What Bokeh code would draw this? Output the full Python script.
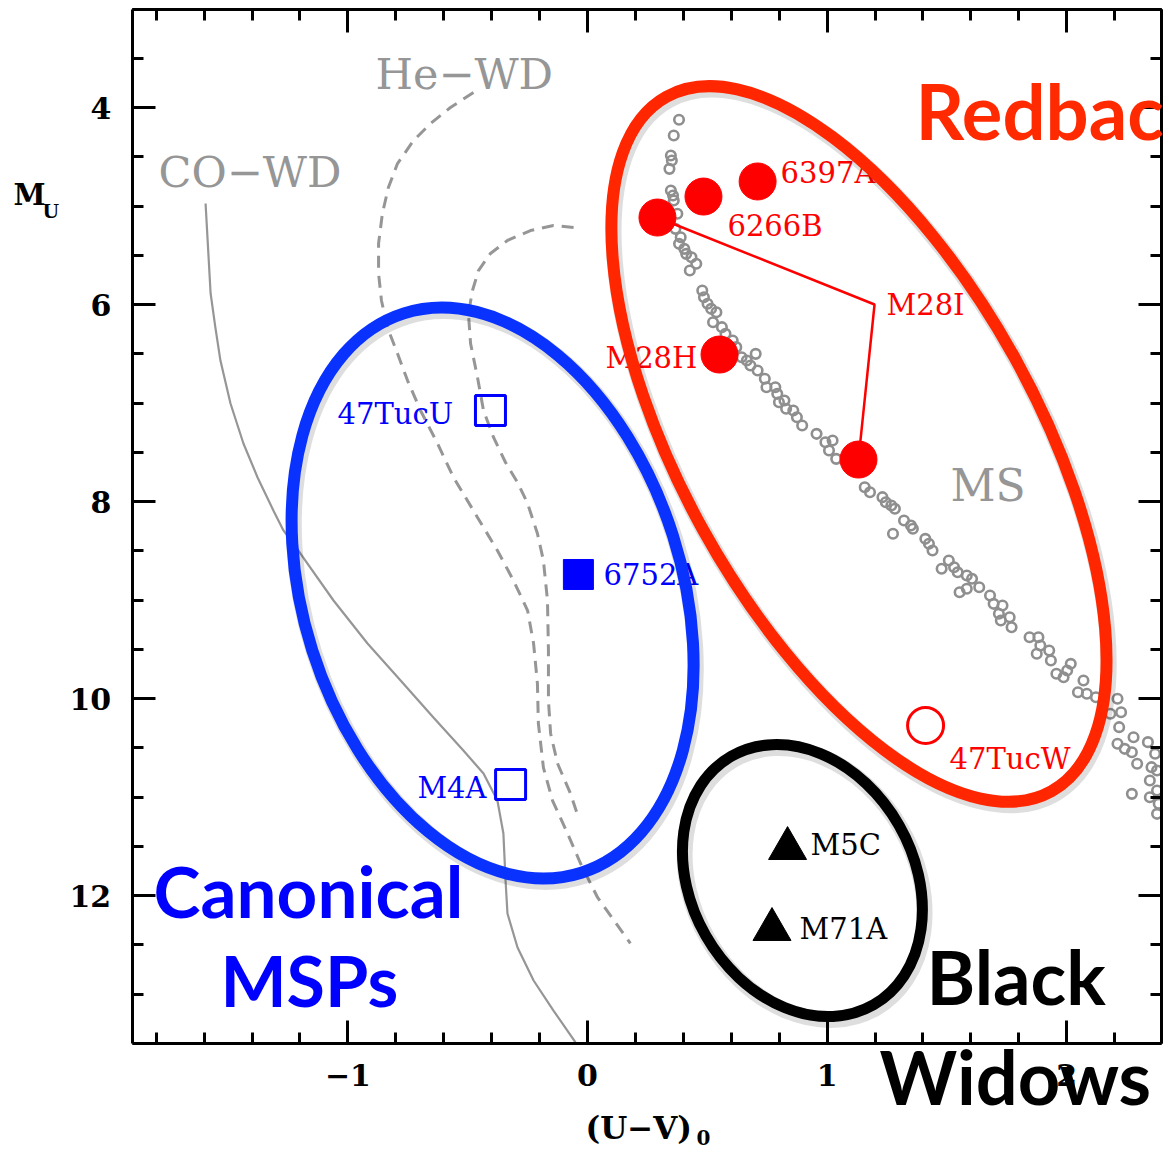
from bokeh.plotting import figure
from bokeh.models import Range1d, LinearAxis, FixedTicker, Label
from bokeh.embed import file_html
from bokeh.resources import INLINE
from bokeh.core.properties import value

# ---------------- data ----------------
# Main-sequence stars (U-V)0 , M_U
ms_uv = [0.382, 0.360, 0.348, 0.352, 0.342, 0.348, 0.357, 0.360, 0.375, 0.367,
         0.389, 0.382, 0.404, 0.412, 0.434, 0.454, 0.427, 0.479, 0.486, 0.501,
         0.516, 0.538, 0.524, 0.561, 0.576, 0.606, 0.621, 0.643, 0.665, 0.702,
         0.680, 0.710, 0.740, 0.747, 0.784, 0.792, 0.799, 0.822, 0.829, 0.859,
         0.874, 0.896, 0.956, 0.993, 1.023, 1.008, 1.038, 1.157, 1.179, 1.231,
         1.245, 1.268, 1.283, 1.275, 1.321, 1.350, 1.358, 1.410, 1.425, 1.440,
         1.478, 1.508, 1.530, 1.545, 1.553, 1.583, 1.583, 1.605, 1.635, 1.680,
         1.695, 1.732, 1.717, 1.762, 1.725, 1.770, 1.845, 1.882, 1.890, 1.927,
         1.875, 1.934, 2.017, 2.002, 1.957, 1.987, 2.070, 2.047, 2.084, 2.122,
         2.212, 2.227, 2.182, 2.219, 2.212, 2.242, 2.279, 2.272, 2.339, 2.294,
         2.369, 2.354, 2.377, 2.272, 2.347, 2.347, 2.377, 2.384, 2.377]
ms_mu = [4.125, 4.284, 4.487, 4.538, 4.623, 4.843, 4.893, 4.944, 5.079, 5.232,
         5.317, 5.384, 5.435, 5.486, 5.520, 5.587, 5.655, 5.858, 5.926, 5.993,
         6.044, 6.078, 6.180, 6.230, 6.298, 6.365, 6.433, 6.535, 6.569, 6.501,
         6.619, 6.670, 6.754, 6.840, 6.840, 6.907, 6.992, 6.975, 7.059, 7.076,
         7.144, 7.228, 7.313, 7.398, 7.381, 7.482, 7.567, 7.855, 7.906, 7.956,
         8.007, 8.041, 8.074, 8.328, 8.193, 8.244, 8.277, 8.379, 8.429, 8.497,
         8.683, 8.599, 8.667, 8.718, 8.921, 8.886, 8.751, 8.785, 8.870, 8.954,
         9.039, 9.056, 9.140, 9.175, 9.208, 9.276, 9.378, 9.378, 9.462, 9.513,
         9.546, 9.614, 9.648, 9.716, 9.749, 9.784, 9.817, 9.936, 9.952, 9.987,
         10.003, 10.139, 10.155, 10.291, 10.460, 10.511, 10.393, 10.545, 10.443, 10.663,
         10.561, 10.697, 10.731, 10.968, 10.832, 11.002, 10.934, 11.069, 11.171]

# CO white-dwarf cooling track
co_wd_uv = [-1.594, -1.573, -1.553, -1.532, -1.490, -1.436, -1.377, -1.311, -1.269, -1.198,
            -1.060, -0.918, -0.780, -0.643, -0.518, -0.434, -0.376, -0.351, -0.342, -0.334,
            -0.292, -0.225, -0.142, -0.050]
co_wd_mu = [4.975, 5.888, 6.234, 6.569, 7.005, 7.411, 7.756, 8.091, 8.294, 8.528,
            9.005, 9.442, 9.817, 10.193, 10.528, 10.761, 11.036, 11.371, 11.848, 12.183,
            12.528, 12.863, 13.168, 13.492]

# He white-dwarf tracks (two masses)
he_wd1_uv = [-0.476, -0.572, -0.655, -0.726, -0.793, -0.831, -0.856, -0.872, -0.872, -0.860,
             -0.835, -0.793, -0.751, -0.697, -0.626, -0.559, -0.459, -0.376, -0.309, -0.250,
             -0.225, -0.209, -0.205, -0.184, -0.146, -0.083, -0.029, 0.042, 0.179]
he_wd1_mu = [3.848, 4.000, 4.162, 4.335, 4.569, 4.812, 5.076, 5.381, 5.685, 5.959,
             6.234, 6.497, 6.772, 7.076, 7.411, 7.756, 8.162, 8.497, 8.802, 9.107,
             9.442, 9.848, 10.254, 10.701, 11.036, 11.371, 11.675, 12.020, 12.487]
he_wd2_uv = [-0.058, -0.142, -0.238, -0.334, -0.405, -0.455, -0.480, -0.497, -0.488, -0.459,
             -0.434, -0.392, -0.342, -0.292, -0.250, -0.209, -0.184, -0.167, -0.163, -0.163,
             -0.154, -0.125, -0.071, -0.038]
he_wd2_mu = [5.218, 5.198, 5.249, 5.350, 5.482, 5.655, 5.858, 6.091, 6.396, 6.741,
             7.076, 7.350, 7.604, 7.807, 8.020, 8.325, 8.599, 9.005, 9.513, 10.020,
             10.355, 10.660, 10.964, 11.208]

# Redback companions (filled) and 47TucW (open)
rb_uv = [0.710, 0.484, 0.292, 0.551, 1.131]
rb_mu = [4.751, 4.904, 5.117, 6.508, 7.574]
rb_open_uv = [1.411]
rb_open_mu = [10.274]
m28i_link_uv = [0.292, 1.198, 1.131]
m28i_link_mu = [5.117, 6.000, 7.574]

# Canonical MSP companions
msp_open_uv = [-0.405, -0.321]
msp_open_mu = [7.076, 10.873]
msp_fill_uv = [-0.038]
msp_fill_mu = [8.741]

# Black widow companions
bw_uv = [0.835, 0.770]
bw_mu = [11.523, 12.345]

# Labels
red_names = ["6397A", "6266B", "M28I", "M28H", "47TucW"]
red_name_uv = [0.806, 0.584, 1.248, 0.075, 1.511]
red_name_mu = [4.660, 5.208, 6.010, 6.548, 10.619]
blue_names = ["47TucU", "6752A", "M4A"]
blue_name_uv = [-1.043, 0.067, -0.710]
blue_name_mu = [7.107, 8.751, 10.904]
black_names = ["M5C", "M71A"]
black_name_uv = [0.931, 0.885]
black_name_mu = [11.492, 12.345]
track_names = ["CO\u2212WD", "He\u2212WD", "MS"]
track_name_uv = [-1.790, -0.885, 1.515]
track_name_mu = [4.650, 3.655, 7.838]

# Population regions: centre (uv, mu), axes (uv units, mu units), angle (deg)
region_uv = [1.133, -0.396, 0.897]
region_mu = [7.416, 8.929, 11.848]
region_w = [3.314, 2.449, 1.195]
region_h = [3.614, 3.842, 2.260]
region_angle = [-61.0, -72.4, -60.2]
region_color = ["#ff2600", "#0a32ff", "#000000"]
region_lw = [12, 12, 11]

# Axes box and ticks
box_uv = (-1.9, 2.395)
box_mu = (3.0, 13.5)
x_major = [-1, 0, 1, 2]
x_minor = [-1.8, -1.6, -1.4, -1.2, -1.0, -0.8, -0.6, -0.4, -0.2, 0.0, 0.2, 0.4,
           0.6, 0.8, 1.0, 1.2, 1.4, 1.6, 1.8, 2.0, 2.2]
x_labels = {-1: "\u22121", 0: "0", 1: "1", 2: "2"}
y_major = [4, 6, 8, 10, 12]
y_minor = [3.0, 3.5, 4.0, 4.5, 5.0, 5.5, 6.0, 6.5, 7.0, 7.5, 8.0, 8.5, 9.0, 9.5,
           10.0, 10.5, 11.0, 11.5, 12.0, 12.5, 13.0, 13.5]

# ---------------- figure ----------------
# the frame fills the canvas; the axes box is drawn with fixed-location axes
p = figure(frame_width=1163, frame_height=1152,
           x_range=Range1d(-2.4499, 2.4040), y_range=Range1d(14.6091, 2.9137),
           x_axis_location=None, y_axis_location=None,
           output_backend="svg", toolbar_location=None,
           min_border=0, min_border_left=0, min_border_right=0,
           min_border_top=0, min_border_bottom=0)
p.grid.visible = False
p.outline_line_color = None
p.background_fill_color = "white"
p.border_fill_color = "white"


def make_axis(ticker, loc, bounds, tick_len=23):
    ax = LinearAxis(ticker=ticker, fixed_location=loc, bounds=bounds)
    ax.axis_line_width = 3
    ax.axis_line_color = "black"
    ax.major_tick_in = 23
    ax.major_tick_out = 0
    ax.minor_tick_in = tick_len
    ax.minor_tick_out = 0
    ax.major_tick_line_width = 3
    ax.minor_tick_line_width = 3
    ax.major_tick_line_color = "black"
    ax.minor_tick_line_color = "black"
    ax.major_label_text_font = "DejaVu Serif"
    ax.major_label_text_font_style = "bold"
    ax.major_label_text_font_size = "30px"
    ax.major_label_text_color = "black"
    ax.major_label_standoff = 21
    ax.axis_label = None
    return ax


# labelled bottom / left axes
ax_b = make_axis(FixedTicker(ticks=x_major, minor_ticks=x_minor), box_mu[1], box_uv, 11)
ax_b.major_label_overrides = x_labels
p.add_layout(ax_b, "below")
p.add_layout(make_axis(FixedTicker(ticks=y_major, minor_ticks=y_minor),
                       box_uv[0], box_mu, 11), "left")

# unlabelled top / right axes (ticks only: one axis for short, one for long ticks)
p.add_layout(make_axis(FixedTicker(ticks=[], minor_ticks=x_minor), box_mu[0], box_uv, 11), "above")
p.add_layout(make_axis(FixedTicker(ticks=[], minor_ticks=x_major), box_mu[0], box_uv, 23), "above")
p.add_layout(make_axis(FixedTicker(ticks=[], minor_ticks=y_minor), box_uv[1], box_mu, 11), "right")
p.add_layout(make_axis(FixedTicker(ticks=[], minor_ticks=y_major), box_uv[1], box_mu, 23), "right")

gray = "#8f8f8f"
serif = value("DejaVu Serif")

# MS stars
p.scatter(ms_uv, ms_mu, marker="circle", size=9.5, fill_color=None,
          line_color=gray, line_width=2.6)

# WD tracks
p.line(co_wd_uv, co_wd_mu, line_color="#969696", line_width=2.2)
p.line(he_wd1_uv, he_wd1_mu, line_color="#969696", line_width=3, line_dash="12 8")
p.line(he_wd2_uv, he_wd2_mu, line_color="#969696", line_width=3, line_dash="12 8")

# track names
p.text(track_name_uv[:2], track_name_mu[:2], text=track_names[:2],
       text_font=serif, text_font_size="43px", text_color="#969696",
       text_baseline="middle", text_align="left")
p.text(track_name_uv[2:], track_name_mu[2:], text=track_names[2:],
       text_font=serif, text_font_size="44px", text_color="#969696",
       text_baseline="middle", text_align="left")

# object names (beneath the region outlines)
p.text(red_name_uv, red_name_mu, text=red_names, text_font=serif,
       text_font_size="29px", text_color="#ff0000",
       text_baseline="middle", text_align="left")
p.text(blue_name_uv, blue_name_mu, text=blue_names, text_font=serif,
       text_font_size="29px", text_color="#0000ff",
       text_baseline="middle", text_align="left")
p.text(black_name_uv, black_name_mu, text=black_names, text_font=serif,
       text_font_size="29px", text_color="black",
       text_baseline="middle", text_align="left")

# soft shadow under the region outlines
p.ellipse(x=[u + 0.009 for u in region_uv], y=[m + 0.035 for m in region_mu],
          width=region_w, height=region_h, angle=region_angle, angle_units="deg",
          fill_color=None, line_color="black", line_alpha=0.13, line_width=16)
# region outlines
p.ellipse(x=region_uv, y=region_mu, width=region_w, height=region_h,
          angle=region_angle, angle_units="deg", fill_color=None,
          line_color=region_color, line_width=region_lw)

# M28I link
p.line(m28i_link_uv, m28i_link_mu, line_color="#ff0000", line_width=2.5)

# markers
p.scatter(rb_uv, rb_mu, marker="circle", size=37, fill_color="#ff0000",
          line_color="#ff0000", line_width=1)
p.scatter(rb_open_uv, rb_open_mu, marker="circle", size=36, fill_color=None,
          line_color="#ff0000", line_width=3)
p.scatter(msp_open_uv, msp_open_mu, marker="square", size=30, fill_color=None,
          line_color="#0000ff", line_width=3)
p.scatter(msp_fill_uv, msp_fill_mu, marker="square", size=30,
          fill_color="#0000ff", line_color="#0000ff", line_width=1)
p.scatter(bw_uv, bw_mu, marker="triangle", size=38, fill_color="black",
          line_color="black", line_width=1)

# big population names
big = dict(text_font="Lato", text_font_style="bold", text_baseline="middle",
           text_align="left")
p.add_layout(Label(x=1.369, y=4.03, text="Redbacks", text_font_size="76px",
                   text_color="#ff2a00", **big))
p.add_layout(Label(x=-1.811, y=11.949, text="Canonical", text_font_size="71px",
                   text_color="#0000ff", **big))
p.add_layout(Label(x=-1.532, y=12.853, text="MSPs", text_font_size="70px",
                   text_color="#0000ff", **big))
p.add_layout(Label(x=1.415, y=12.822, text="Black", text_font_size="74px",
                   text_color="black", **big))
p.add_layout(Label(x=1.219, y=13.838, text="Widows", text_font_size="74px",
                   text_color="black", **big))

# axis titles
p.add_layout(Label(x=-0.008, y=14.36, text="(U\u2212V)", text_font="DejaVu Serif",
                   text_font_style="bold", text_font_size="31px", text_color="black",
                   text_baseline="middle", text_align="left"))
p.add_layout(Label(x=0.455, y=14.46, text="0", text_font="DejaVu Serif",
                   text_font_style="bold", text_font_size="20px", text_color="black",
                   text_baseline="middle", text_align="left"))
p.add_layout(Label(x=-2.396, y=4.893, text="M", text_font="DejaVu Serif",
                   text_font_style="bold", text_font_size="29px", text_color="black",
                   text_baseline="middle", text_align="left"))
p.add_layout(Label(x=-2.275, y=5.046, text="U", text_font="DejaVu Serif",
                   text_font_style="bold", text_font_size="19px", text_color="black",
                   text_baseline="middle", text_align="left"))

open("out.html", "w").write(file_html(p, INLINE))
